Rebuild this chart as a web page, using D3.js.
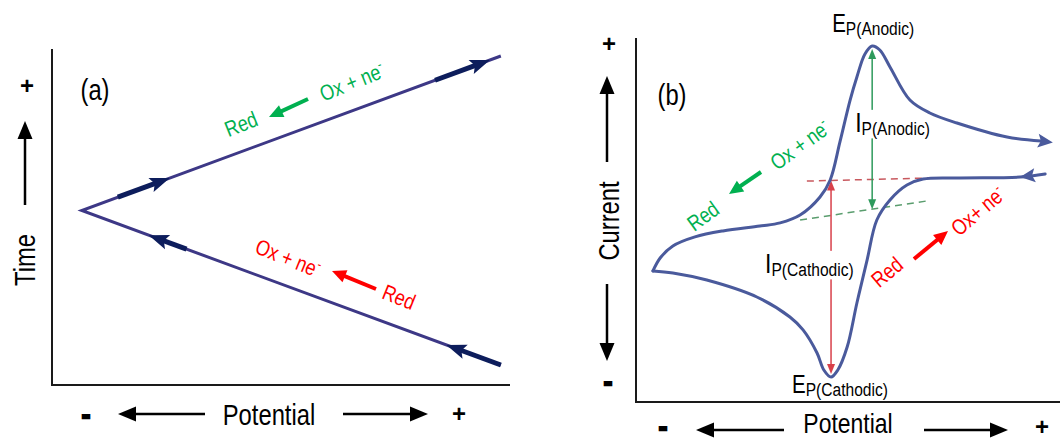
<!DOCTYPE html>
<html>
<head>
<meta charset="utf-8">
<script src="https://cdn.jsdelivr.net/npm/d3@7"></script>
<style>
  body { margin: 0; background: #fff; }
  svg text { font-family: 'Liberation Sans Narrow', 'Arial Narrow', 'Liberation Sans', Arial, sans-serif; }
</style>
</head>
<body>
<svg id="chart"></svg>
<script>
// (a) potential waveform: time goes up, potential sweeps back then forward
const waveTime = [0, 1, 2];
const wavePotential = [0.96, -0.87, 0.96];
// arrow decorations along the sweep, as [start time, tip time]
const waveArrows = [[0, 0.13], [0.75, 0.84], [1.086, 1.21], [1.843, 1.974]];

// (b) voltammogram, normalised potential (0..1) and current (-1..1)
const anodicPotential = [0.040, 0.057, 0.087, 0.139, 0.205, 0.292, 0.340, 0.387, 0.434, 0.458, 0.481, 0.505, 0.521, 0.540, 0.557, 0.575, 0.599, 0.646, 0.693, 0.757, 0.875, 0.955];
const anodicCurrent   = [-0.280, -0.209, -0.143, -0.093, -0.060, -0.033, -0.016, 0.027, 0.126, 0.220, 0.429, 0.659, 0.786, 0.912, 0.956, 0.934, 0.841, 0.659, 0.588, 0.533, 0.456, 0.434];
const cathodicPotential = [0.965, 0.906, 0.764, 0.677, 0.639, 0.599, 0.568, 0.545, 0.521, 0.498, 0.476, 0.460, 0.443, 0.427, 0.394, 0.363, 0.285, 0.167, 0.087, 0.040];
const cathodicCurrent   = [0.253, 0.236, 0.231, 0.225, 0.192, 0.110, 0.000, -0.220, -0.456, -0.698, -0.824, -0.863, -0.824, -0.731, -0.604, -0.533, -0.423, -0.330, -0.291, -0.280];

// baselines used for the peak currents
const anodicBasePotential = [0.387, 0.684];
const anodicBaseCurrent = [0.0, 0.104];
const cathodicBasePotential = [0.403, 0.695];
const cathodicBaseCurrent = [0.214, 0.231];

const W = 1060, H = 439;
const NARROW = 0.82;   // no Arial Narrow here, squeeze the regular face instead
const svg = d3.select('#chart').attr('width', W).attr('height', H);

const NAVY = '#3d3886', NAVY_DARK = '#0d1d5c', CURVE = '#4a5a9c';
const GREEN = '#00b050', RED = '#ff0000';

// arrow = line + triangular head(s)
function arrow(g, p1, p2, o) {
  const dx = p2[0] - p1[0], dy = p2[1] - p1[1];
  const L = Math.hypot(dx, dy), ux = dx / L, uy = dy / L;
  const head = (tip, sx, sy) => {
    const bx = tip[0] - sx * o.len, by = tip[1] - sy * o.len;
    const nx = -sy * o.wid / 2, ny = sx * o.wid / 2;
    const n = o.notch || 0;
    const mx = tip[0] - sx * o.len * (1 - n), my = tip[1] - sy * o.len * (1 - n);
    g.append('path')
      .attr('d', `M${tip[0]},${tip[1]}L${bx + nx},${by + ny}L${mx},${my}L${bx - nx},${by - ny}Z`)
      .attr('fill', o.color);
  };
  let a = p1;
  const b = [p2[0] - ux * o.len * 0.7, p2[1] - uy * o.len * 0.7];
  if (o.both) a = [p1[0] + ux * o.len * 0.7, p1[1] + uy * o.len * 0.7];
  g.append('line')
    .attr('x1', a[0]).attr('y1', a[1]).attr('x2', b[0]).attr('y2', b[1])
    .attr('stroke', o.color).attr('stroke-width', o.w);
  head(p2, ux, uy);
  if (o.both) head(p1, -ux, -uy);
}

function sign(g, cx, cy, ch, size) {
  g.append('text')
    .attr('x', cx).attr('y', cy + (ch === '+' ? 0.3 : 0.27) * size)
    .attr('text-anchor', 'middle')
    .attr('font-size', size).attr('font-weight', 'bold')
    .attr('stroke', ch === '-' ? '#000' : 'none').attr('stroke-width', 2.5)
    .text(ch);
}

function label(g, x, y, txt, size, rot = 0) {
  return g.append('text')
    .attr('transform', `translate(${x},${y}) rotate(${rot}) scale(${NARROW},1)`)
    .attr('text-anchor', 'middle')
    .attr('font-size', size)
    .text(txt);
}

function reaction(g, x, y, ang, color, base, sup) {
  const t = g.append('text')
    .attr('transform', `translate(${x},${y}) rotate(${ang}) scale(${NARROW},1)`)
    .attr('text-anchor', 'middle').attr('dy', '0.35em')
    .attr('fill', color).attr('font-size', 22);
  t.append('tspan').text(base);
  if (sup) t.append('tspan').attr('dy', -9).attr('font-size', 14).text(sup);
}

const black = { color: '#000', w: 2.5, len: 18, wid: 15 };
const react = (c) => ({ color: c, w: 4, len: 14, wid: 13 });

// ---------------- panel (a) ----------------
const ga = svg.append('g');
const xa = d3.scaleLinear().domain([-1, 1]).range([52, 510]);
const ya = d3.scaleLinear().domain([0, 2]).range([365, 56]);
const wave = d3.scaleLinear().domain(waveTime).range(wavePotential);

ga.append('line').attr('x1', 52).attr('x2', 52).attr('y1', 49).attr('y2', 385)
  .attr('stroke', '#1a1a1a').attr('stroke-width', 2);
ga.append('line').attr('x1', 51).attr('x2', 510).attr('y1', 385).attr('y2', 385)
  .attr('stroke', '#1a1a1a').attr('stroke-width', 2);

ga.append('path')
  .datum(waveTime)
  .attr('d', d3.line().x(t => xa(wave(t))).y(t => ya(t)))
  .attr('fill', 'none').attr('stroke', NAVY).attr('stroke-width', 3);

waveArrows.forEach(([t0, t1]) => {
  arrow(ga, [xa(wave(t0)), ya(t0)], [xa(wave(t1)), ya(t1)],
    { color: NAVY_DARK, w: 5, len: 20, wid: 15, notch: 0.2 });
});

label(ga, 95, 100, '(a)', 29);
sign(ga, 27, 87, '+', 24);
arrow(ga, [25, 205], [25, 121], black);
label(ga, 35, 260, 'Time', 29, -90);

sign(ga, 86, 417, '-', 24);
arrow(ga, [205, 414], [118, 414], black);
label(ga, 269, 425, 'Potential', 29);
arrow(ga, [343, 414], [428, 414], black);
sign(ga, 459, 415, '+', 24);

reaction(ga, 241, 124, -22, GREEN, 'Red');
arrow(ga, [308, 99], [269, 117], react(GREEN));
reaction(ga, 352, 82, -22, GREEN, 'Ox + ne', '-');

reaction(ga, 288, 258, 22, RED, 'Ox + ne', '-');
arrow(ga, [376, 289], [332, 271], react(RED));
reaction(ga, 399, 297, 22, RED, 'Red');

// ---------------- panel (b) ----------------
const gb = svg.append('g');
const gbMarks = gb.append('g');
const gbMask = gb.append('g');
const gbCurve = gb.append('g');
const gbText = gb.append('g');
const xb = d3.scaleLinear().domain([0, 1]).range([636, 1060]);
const yb = d3.scaleLinear().domain([-1, 1]).range([402, 38]);

gbMarks.append('line').attr('x1', 636).attr('x2', 636).attr('y1', 38).attr('y2', 402)
  .attr('stroke', '#1a1a1a').attr('stroke-width', 2);
gbMarks.append('line').attr('x1', 635).attr('x2', 1060).attr('y1', 402).attr('y2', 402)
  .attr('stroke', '#1a1a1a').attr('stroke-width', 2);

// dashed baselines
[[anodicBasePotential, anodicBaseCurrent, '#5a9d6e'], [cathodicBasePotential, cathodicBaseCurrent, '#c8585e']]
  .forEach(([p, c, col]) => {
    gbMarks.append('line')
      .attr('x1', xb(p[0])).attr('y1', yb(c[0])).attr('x2', xb(p[1])).attr('y2', yb(c[1]))
      .attr('stroke', col).attr('stroke-width', 1.5).attr('stroke-dasharray', '7,5');
  });

const cvLine = d3.line().curve(d3.curveCatmullRom.alpha(0.5)).x(d => xb(d[0])).y(d => yb(d[1]));
const anodic = anodicPotential.map((p, i) => [p, anodicCurrent[i]]);
const cathodic = cathodicPotential.map((p, i) => [p, cathodicCurrent[i]]);

[anodic, cathodic].forEach(pts => {
  gbCurve.append('path').datum(pts).attr('d', cvLine)
    .attr('fill', 'none').attr('stroke', CURVE).attr('stroke-width', 3)
    .attr('stroke-linecap', 'round');
});

// sweep direction heads
function curveHead(a, b, extend) {
  const p = [xb(a[0]), yb(a[1])], q = [xb(b[0]), yb(b[1])];
  const dx = q[0] - p[0], dy = q[1] - p[1], L = Math.hypot(dx, dy);
  const ux = dx / L, uy = dy / L, len = 15, wid = 14;
  const tip = [q[0] + ux * extend, q[1] + uy * extend];
  const bx = tip[0] - ux * len, by = tip[1] - uy * len;
  const nx = -uy * wid / 2, ny = ux * wid / 2;
  gbCurve.append('path')
    .attr('d', `M${tip[0]},${tip[1]}L${bx + nx},${by + ny}L${tip[0] - ux * len * 0.8},${tip[1] - uy * len * 0.8}L${bx - nx},${by - ny}Z`)
    .attr('fill', CURVE);
}
curveHead(anodic[anodic.length - 2], anodic[anodic.length - 1], 12);
curveHead(cathodic[0], cathodic[1], 0);

// peak current arrows
const iA = d3.scaleLinear().domain(anodicBasePotential).range(anodicBaseCurrent);
const iC = d3.scaleLinear().domain(cathodicBasePotential).range(cathodicBaseCurrent);
const peakA = anodic[d3.maxIndex(anodic, d => d[1])];
const peakC = cathodic[d3.minIndex(cathodic, d => d[1])];

arrow(gbMarks, [xb(peakA[0]), yb(iA(peakA[0]))], [xb(peakA[0]), yb(peakA[1]) + 3],
  { color: '#2e9a5c', w: 1.5, len: 10, wid: 8, both: true });
arrow(gbMarks, [xb(peakC[0]), yb(iC(peakC[0]))], [xb(peakC[0]), yb(peakC[1]) - 3],
  { color: '#d8404a', w: 1.5, len: 10, wid: 8, both: true });

// E / I labels; the I labels sit on a white patch that hides the arrow shaft only
function peakLabel(x, y, main, sub, size, box) {
  const t = gbText.append('text')
    .attr('transform', `translate(${x},${y}) scale(${NARROW},1)`)
    .attr('font-size', size);
  t.append('tspan').text(main);
  t.append('tspan').attr('dy', 3).attr('font-size', 19).text(sub);
  if (box) {
    const bb = t.node().getBoundingClientRect();
    gbMask.append('rect')
      .attr('x', bb.left - 2).attr('y', bb.top + 3).attr('width', bb.width + 4).attr('height', bb.height - 4)
      .attr('fill', '#fff');
  }
}
peakLabel(xb(peakA[0]) - 40, 32, 'E', 'P(Anodic)', 25, false);
peakLabel(xb(peakA[0]) - 17, 132, 'I', 'P(Anodic)', 28, true);
peakLabel(xb(peakC[0]) - 66, 273, 'I', 'P(Cathodic)', 28, true);
peakLabel(xb(peakC[0]) - 39, 393, 'E', 'P(Cathodic)', 25, false);

label(gbText, 672, 105, '(b)', 29);
sign(gbText, 609, 45, '+', 24);
arrow(gbText, [607, 162], [607, 76], black);
label(gbText, 619, 221, 'Current', 29, -90);
arrow(gbText, [607, 284], [607, 361], black);
sign(gbText, 608, 384, '-', 24);

sign(gbText, 663, 429, '-', 24);
arrow(gbText, [784, 430], [696, 430], black);
label(gbText, 848, 433, 'Potential', 28);
arrow(gbText, [924, 430], [1008, 430], black);
sign(gbText, 1042, 428, '+', 24);

reaction(gbText, 800, 145, -36, GREEN, 'Ox + ne', '-');
arrow(gbText, [761, 172], [729, 194], react(GREEN));
reaction(gbText, 703, 216, -36, GREEN, 'Red');

reaction(gbText, 887, 272, -40, RED, 'Red');
arrow(gbText, [914, 259], [948, 231], react(RED));
reaction(gbText, 978, 211, -40, RED, 'Ox+ ne', '-');
</script>
</body>
</html>
